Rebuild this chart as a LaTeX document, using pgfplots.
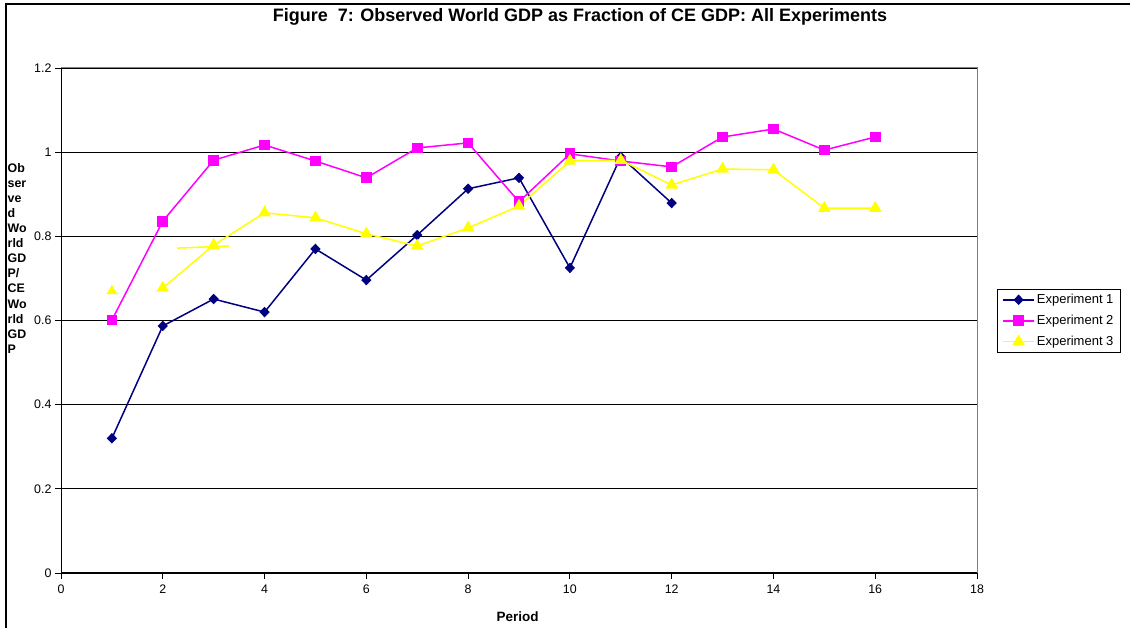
\documentclass[border=0pt]{standalone}
\usepackage{pgfplots}
\pgfplotsset{compat=1.18}
\usepackage{fontspec}
\setmainfont{Liberation Sans}
\definecolor{expone}{RGB}{0,0,128}
\definecolor{exptwo}{RGB}{255,0,255}
\definecolor{expthree}{RGB}{255,255,0}
\definecolor{frameg}{RGB}{128,128,128}
\begin{document}
\begin{tikzpicture}[x=1pt,y=1pt]
\useasboundingbox (0,0) rectangle (1130,628);
\fill[white] (0,0) rectangle (1130,628);
% outer chart frame
\draw[line width=2pt] (6,0) -- (6,624) -- (1130,624);
\begin{axis}[
  at={(61pt,55pt)}, anchor=south west,
  scale only axis, width=916pt, height=505pt,
  xmin=0, xmax=18, ymin=0, ymax=1.2,
  xtick={0,2,4,6,8,10,12,14,16,18},
  ytick={0,0.2,0.4,0.6,0.8,1,1.2},
  axis line style={frameg, line width=1pt},
  tick style={black, line width=0.8pt},
  tick align=outside, major tick length=6pt,
  xtick pos=bottom, ytick pos=left,
  ymajorgrids, grid style={black, line width=0.9pt},
  ticklabel style={font=\fontsize{12.4}{14}\selectfont},
  /pgf/number format/assume math mode=true,
  xticklabel style={yshift=-2pt},
  yticklabel style={xshift=0pt},
  legend style={at={(1.0218,0.5624)}, anchor=north west, draw=black,
    line width=0.8pt, font=\fontsize{13}{15}\selectfont,
    inner xsep=5pt, inner ysep=3pt, row sep=6pt,
    /tikz/every even column/.append style={column sep=1pt}},
  legend cell align=left,
  legend image code/.code={\draw[mark repeat=2,mark phase=2] plot coordinates {(0pt,0pt)(15.5pt,0pt)(31pt,0pt)};},
]
\addplot[expone, line width=1.5pt, mark=diamond*, mark size=4.2pt,
  mark options={solid, fill=expone, xscale=1.3}] coordinates {
  (1,0.320) (2,0.587) (3,0.651) (4,0.620) (5,0.770) (6,0.696)
  (7,0.803) (8,0.913) (9,0.939) (10,0.725) (11,0.989) (12,0.879)};
\addlegendentry{Experiment 1}
\addplot[exptwo, line width=1.5pt, mark=square*, mark size=4.6pt,
  mark options={solid, fill=exptwo}] coordinates {
  (1,0.601) (2,0.836) (3,0.981) (4,1.017) (5,0.979) (6,0.939)
  (7,1.010) (8,1.022) (9,0.882) (10,0.996) (11,0.979) (12,0.965)
  (13,1.036) (14,1.055) (15,1.005) (16,1.036)};
\addlegendentry{Experiment 2}
\addplot[expthree, line width=1.5pt, mark=triangle*, mark size=5.8pt,
  mark options={solid, fill=expthree}] coordinates {
  (2,0.677) (3,0.779) (4,0.856) (5,0.844) (6,0.806) (7,0.777)
  (8,0.820) (9,0.872) (10,0.979) (11,0.981) (12,0.922) (13,0.960)
  (14,0.958) (15,0.867) (16,0.867)};
\addlegendentry{Experiment 3}
% first period of experiment 3 stands alone
\addplot[expthree, only marks, mark=triangle*, mark size=5.8pt,
  mark options={fill=expthree}, forget plot] coordinates {(1,0.670)};
% short stray segment of experiment 3
\addplot[expthree, line width=1.5pt, forget plot] coordinates {(2.28,0.772) (3.30,0.777)};
% black axis lines on left and bottom
\draw[black, line width=1pt] (rel axis cs:0,1) -- (rel axis cs:0,0) -- (rel axis cs:1,0);
\end{axis}
\node[anchor=base, font=\bfseries\fontsize{18}{20}\selectfont] at (580,606) {Figure\ \ 7: Observed World GDP as Fraction of CE GDP: All Experiments};
\node[anchor=base, font=\bfseries\fontsize{13.5}{15}\selectfont] at (517.5,6) {Period};
\node[anchor=north west, align=left, inner sep=0pt, font=\bfseries\fontsize{12.4}{15.1}\selectfont] at (7.5,465)
  {Ob\\ser\\ve\\d\\Wo\\rld\\GD\\P/\\CE\\Wo\\rld\\GD\\P};
\end{tikzpicture}
\end{document}
